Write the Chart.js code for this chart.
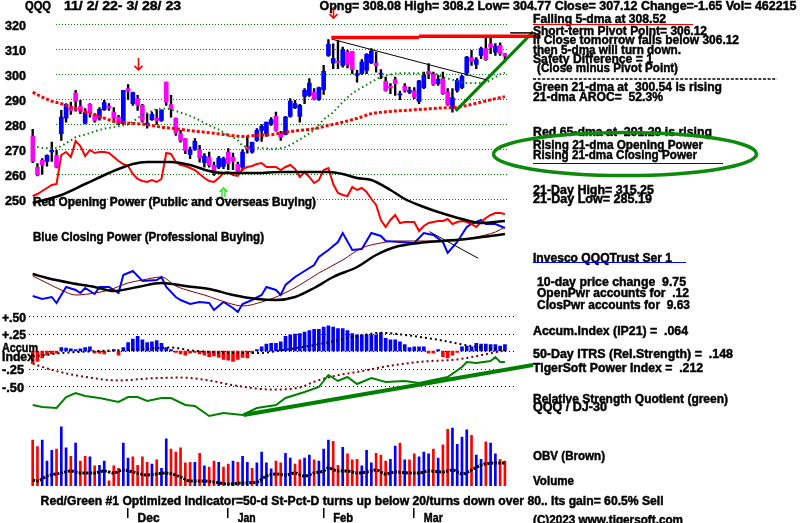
<!DOCTYPE html>
<html lang="en">
<head>
<meta charset="UTF-8">
<title>QQQ 11/2/22 - 3/28/23</title>
<script src="https://cdn.jsdelivr.net/npm/chart.js"></script>
<style>
  html, body { margin: 0; padding: 0; background: #fff; }
  #wrap { width: 800px; height: 523px; }
</style>
</head>
<body>
<div id="wrap"><canvas id="tiger" width="800" height="523"></canvas></div>
<script>
// ---- daily candles (QQQ) ----
const opens = [275.0,262.6,265.4,265.0,268.8,267.4,276.1,282.3,286.5,292.3,
  287.0,280.3,287.8,283.4,282.3,285.7,287.0,284.7,282.7,280.1,
  294.1,288.1,290.1,287.4,279.7,281.7,282.3,281.4,296.7,287.7,
  282.3,276.1,274.1,267.8,269.8,269.7,264.5,266.7,263.4,262.7,
  263.0,268.7,266.7,263.8,262.7,270.7,268.7,273.4,277.4,276.1,
  280.1,283.0,276.1,275.8,283.0,286.5,283.0,291.0,291.4,292.7,
  289.8,293.7,307.4,304.3,305.0,303.4,308.7,309.0,299.4,300.1,
  301.4,304.5,304.3,299.9,297.0,295.0,297.7,291.6,295.0,292.7,
  293.1,289.0,294.5,301.0,299.8,296.1,298.1,292.7,286.1,293.4,
  294.5,300.3,306.5,303.8,307.4,310.1,312.0,308.7,311.4,308.08];
const highs = [277.8,264.1,266.1,267.6,272.7,269.4,285.4,288.1,288.7,293.4,
  289.4,286.1,288.1,284.1,286.5,289.4,288.1,286.5,283.4,293.4,
  295.7,292.7,291.4,287.8,284.1,284.7,285.7,285.7,296.7,291.4,
  282.3,277.4,274.1,270.7,274.1,271.4,268.1,268.7,264.7,267.0,
  266.7,270.1,268.3,264.7,269.7,275.0,272.7,278.1,279.7,280.7,
  282.5,284.7,277.0,283.0,290.1,289.4,287.8,294.1,298.1,294.1,
  294.7,303.4,313.7,312.0,313.4,310.7,309.4,309.0,301.4,305.7,
  308.1,310.1,308.7,301.7,298.7,296.1,298.7,293.1,296.1,294.7,
  294.5,297.4,300.7,304.1,300.7,299.4,300.7,294.1,294.1,298.1,
  299.4,307.0,309.4,306.5,310.7,314.7,314.7,312.1,312.4,308.2];
const lows = [264.5,259.2,259.8,263.1,265.0,262.4,273.4,280.7,283.8,285.1,
  284.1,280.0,282.7,280.7,281.5,285.4,285.4,280.7,279.7,279.7,
  289.8,287.4,285.4,280.7,278.3,281.4,279.8,281.0,287.4,282.7,
  275.4,272.7,268.1,266.1,269.4,264.7,262.7,262.7,259.4,262.1,
  262.1,261.7,261.7,260.7,261.4,268.3,268.3,273.0,273.0,275.0,
  279.4,277.1,273.4,275.6,282.7,286.1,280.7,288.1,291.0,289.6,
  289.4,291.8,307.0,302.1,302.1,302.7,302.4,300.1,296.7,299.8,
  300.1,304.1,300.7,298.1,293.1,292.1,291.4,289.7,292.7,292.1,
  290.1,288.1,294.1,298.1,295.4,295.4,291.8,287.4,284.7,292.7,
  294.1,299.4,303.4,302.1,306.1,305.4,308.1,307.4,307.4,304.77];
const closes = [265.0,259.7,263.6,267.4,269.4,262.7,282.7,287.8,285.4,289.1,
  285.1,284.7,284.5,281.4,285.8,288.5,286.3,282.3,280.1,293.4,
  293.1,292.5,287.4,281.4,280.3,283.8,281.4,285.4,288.7,286.1,
  276.5,273.4,269.4,269.4,273.0,266.3,267.1,263.4,260.1,266.3,
  266.1,264.1,265.1,261.1,268.7,269.9,272.6,277.4,279.0,280.7,
  281.7,277.4,274.7,282.7,289.1,288.1,287.4,293.4,296.3,289.8,
  294.5,301.0,311.8,306.1,304.6,309.7,303.8,301.7,300.1,304.7,
  307.8,309.1,303.3,300.3,293.4,294.4,296.1,292.0,293.4,293.4,
  290.7,297.2,299.4,300.1,295.8,297.8,292.1,287.8,290.5,297.4,
  299.0,306.7,305.1,305.7,310.1,305.7,310.7,311.0,308.1,307.12];

// green 21-dma and red 65-dma (day index, value)
const ma21Days = [0,3,5,6,7,8,9,11,13,15,17,19,20,22,24,27,29,31,33,35,37,39,41,43,44,47,50,53,55,57,
  59,61,63,65,67,69,71,73,76,78,81,84,86,88,90,92,95,97,98,99];
const ma21Vals = [271,270.3,270.3,271.1,272.3,273.4,274.7,275.7,277,278.1,278.7,279.4,279.7,282.3,284.3,
  286.1,285.7,284.5,283.2,281.4,279.4,277.7,275.4,273.4,271.4,270.5,270.1,270.7,272.7,275,
  277.6,281.7,284.7,288.7,292.2,294.5,296.7,298.7,300.1,300.3,300.3,300.1,298.7,297.7,296.7,296.3,296.7,298.7,299.8,300.5];
const ma65Days = [0,2,4,6,8,10,13,15,17,20,22,25,27,29,31,34,36,40,44,47,50,53,56,59,62,65,68,71,75,78,82,85,89,92,94,97,99];
const ma65Vals = [292.7,290.7,289.1,288.1,286.7,285.4,283.7,282.3,281,280.3,280.1,279.4,278.7,278.3,277.8,277.1,276.7,
  275.8,275,275.4,275.7,276.7,277.4,278.1,279.4,280.7,282.2,284.1,285,285.4,285.9,286.3,286.7,287.8,288.7,290.1,290.9];

// price trend lines: [startDay, startValue, endDay, endValue]
const resistLow = [62.6, 314.6, 81, 314.6];
const resistHigh = [81, 315.1, 106.4, 315.1];
const downTrend = [62.7, 313.9, 95.2, 297.6];
const upTrend = [88.7, 285.2, 104.9, 316.8];
const topTick = [100.1, 316.4, 104.9, 316.4];

// opening power (red, daily) and closing power (blue), in chart units
const openPower = [54,56,59,62,65,66,95,98,93,109,
  104,94,100,97,98,98,97,93,89,86,
  84,76,71,69,68,70,68,71,97,96,
  88,85,84,82,80,76,72,69,68,72,
  77,78,75,74,81,83,84,86,87,83,
  83,83,80,83,85,81,73,78,73,67,
  70,80,82,66,57,55,54,63,60,62,
  58,51,45,30,23,30,35,27,28,28,
  28,19,24,27,28,29,29,31,26,28,
  29,28,26,23,28,32,35,37,37,36];
const opMaDays = [0,6,11,16,21,24,29,33,37,40,43,47,52,57,62,65,68,71,75,78,82,85,90,94,99];
const opMaVals = [47,55,66,77,86,88,88,85,79,77,77,77,78,78,78,76,72,70,60,51,43,38,31,27,29];
const cpDays = [0,2,4,5,7,9,10,11,13,14,16,18,19,21,23,26,27,28,30,31,33,35,37,38,40,42,43,44,46,48,
  49,51,52,53,55,57,59,60,62,64,65,67,69,71,73,74,80,82,84,86,87,89,91,92,94,95,97,99];
const cpVals = [-46,-49,-47,-53,-37,-40,-43,-38,-44,-37,-37,-43,-25,-21,-31,-30,-27,-37,-47,-50,
  -54,-52,-53,-60,-52,-58,-62,-54,-50,-45,-37,-40,-45,-35,-27,-21,-15,-7,0,8,
  17,0,1,17,14,9,7,17,15,8,-3,8,23,26,30,26,26,22];
const cpFastDays = [0,3,6,9,13,16,20,23,27,30,33,36,41,44,48,52,56,60,65,69,73,77,83,88,93,97,99];
const cpFastVals = [-26,-33,-40,-45,-43,-40,-33,-30,-27,-36,-41,-45,-53,-56,-52,-45,-35,-23,-10,2,7,9,9,9,13,18,23];
const cpSlowDays = [0,3,8,13,17,22,27,32,37,42,47,51,55,59,63,68,72,76,81,86,91,96,99];
const cpSlowVals = [-24,-28,-33,-37,-41,-37,-33,-36,-39,-45,-49,-50,-47,-38,-27,-17,-5,3,7,9,11,14,16];
const cpTrend = [83.2, 18.3, 93.4, -8.3];

// accumulation index (IP21), daily
const accum = [-0.18,-0.15,-0.10,-0.06,-0.04,-0.03,0.05,0.04,0.03,0.02,
  0.03,0.05,0.06,-0.03,-0.03,-0.04,-0.01,0.02,-0.06,0.05,
  0.12,0.17,0.21,0.16,0.12,0.13,0.15,0.11,0.05,0.02,
  -0.02,-0.04,-0.06,-0.03,-0.02,-0.04,-0.06,-0.08,-0.07,-0.09,
  -0.12,-0.13,-0.15,-0.12,-0.09,-0.10,-0.03,0.02,0.06,0.10,
  0.11,0.11,0.13,0.21,0.23,0.24,0.25,0.27,0.29,0.31,
  0.31,0.34,0.36,0.34,0.32,0.32,0.29,0.25,0.23,0.23,
  0.23,0.23,0.23,0.26,0.18,0.16,0.16,0.13,0.09,0.05,
  0.06,0.06,0.06,-0.03,-0.03,0.02,-0.08,-0.10,-0.06,-0.02,
  0.06,0.07,0.06,0.11,0.10,0.10,0.09,0.09,0.07,0.09];
const aiMaDays = [0,6,14,22,29,33,39,47,53,61,68,73,78,85,92,99];
const aiMaVals = [-0.08,-0.03,0,0.02,0.05,0.01,-0.02,-0.03,0.02,0.11,0.21,0.26,0.23,0.16,0.07,0.01];
const itrsDays = [0,4,11,18,25,31,36,43,50,56,59,63,68,75,82,89,94,99];
const itrsVals = [-0.18,-0.27,-0.37,-0.42,-0.39,-0.38,-0.41,-0.50,-0.55,-0.52,-0.44,-0.36,-0.30,-0.21,-0.15,-0.12,-0.06,0.01];

// relative strength quotient QQQ / DJ-30 (green)
const rsDays = [0,2,5,7,9,11,14,18,20,22,24,27,29,32,34,37,40,44,47,51,53,57,60,62,64,66,68,71,74,78,81,84,87,90,91,93,96,97,98,99];
const rsVals = [15,13,12,23,27,24,22,18,23,23,19,22,22,15,14,4,7,5,12,15,22,28,33,45,39,43,36,42,38,39,37,40,43,53,58,57,59,63,58,58];
const rsTrend = [44.2, 5, 104.9, 55];

// volume (u = up day, d = down day) and OBV
const volume = [76,65,76,41,59,61,98,63,49,71, 41,49,48,33,34,41,8,33,29,71,
  46,48,34,48,39,36,43,29,78,61, 56,63,38,39,39,54,33,31,41,39,
  31,36,41,39,49,39,29,38,56,38, 28,41,38,54,46,36,43,46,51,43,
  41,61,76,74,34,64,53,43,44,33, 59,38,54,51,41,44,66,71,43,43,
  53,48,56,53,61,46,68,94,96,69, 81,93,84,51,44,73,71,53,44,41];
const volDir = 'dduuuduudu' + 'dduduudddu' + 'udddduduud' + 'ddddududdu' + 'dduduuduuu' +
  'udduudduud' + 'uuuddudddu' + 'uuddduudud' + 'duuududduu' + 'uuduuduudd';
const obvDays = [0,1,3,6,8,10,13,15,17,19,21,24,26,28,31,33,36,38,41,44,47,49,51,53,55,57,59,61,62,64,
  66,68,70,72,74,76,79,81,83,86,88,90,92,94,97,99];
const obvVals = [10,9,14,17,19,17,17,19,17,20,18,15,16,17,13,9,9,8,6,7,8,14,16,15,17,14,17,19,22,19,
  19,17,18,20,16,18,17,17,19,18,20,16,20,25,27,27];

// ticks and markers
const priceTicks = [320, 310, 300, 290, 280, 270, 260, 250];
const aiTicks = [0.5, 0.25, 0, -0.25, -0.5];
const aiTickText = ['+.50', '+.25', '', '-.25', '-.50'];
const monthNames = ['Dec', 'Jan', 'Feb', 'Mar'];
const monthStarts = [20, 41, 61, 80];
const sellDays = [22, 63];
const buyDays = [40];

const days = closes.map((_, i) => i);
const pts = (ds, vs) => ds.map((d, k) => ({ x: d, y: vs[k] }));
const seg2 = s => [{ x: s[0], y: s[1] }, { x: s[2], y: s[3] }];

const BLUE = '#0000ff', RED = '#ff0000', MAG = '#ff00ff', GREEN = '#008000', BROWN = '#800000';

// bold text squeezed to the width it takes in the picture
function say(ctx, s, x, yc, w, size, color) {
  ctx.save();
  ctx.font = 'bold ' + (size || 12) + 'px "Liberation Sans", Arial, sans-serif';
  ctx.fillStyle = color || '#000';
  ctx.strokeStyle = color || '#000';
  ctx.lineWidth = 0.45;
  ctx.textBaseline = 'middle';
  const m = ctx.measureText(s).width;
  ctx.translate(x, yc);
  if (w) ctx.scale(w / m, 1);
  ctx.fillText(s, 0, 0);
  ctx.strokeText(s, 0, 0);
  ctx.restore();
}
function line(ctx, x1, y1, x2, y2) {
  ctx.beginPath(); ctx.moveTo(x1, y1); ctx.lineTo(x2, y2); ctx.stroke();
}

const notes = [
  ['Falling 5-dma at 308.52', 533, 19.5, 133],
  ['Short-term Pivot Point= 306.12', 533, 31.5, 174],
  ['If Close tomorrow falls below 306.12', 533, 41, 206],
  ['then 5-dma will turn down.', 533, 50.5, 148],
  ['Safety Difference = 1', 533, 59.5, 120],
  ['(Close minus Pivot Point)', 537, 68.5, 141],
  ['Green 21-dma at  300.54 is rising', 533, 88, 189],
  ['21-dma AROC=  52.3%', 533, 98, 130],
  ['Red 65-dma at  291.29 is rising', 533, 133, 179],
  ['Rising 21-dma Opening Power', 533, 145.5, 170],
  ['Rising 21-dma Closing Power', 533, 156, 164],
  ['21-Day High= 315.25', 533, 191, 121],
  ['21-Day Low= 285.19', 533, 199.5, 119],
  ['Invesco QQQTrust Ser 1', 533, 258.5, 139],
  ['10-day price change  9.75', 537, 282.5, 149],
  ['OpenPwr accounts for  .12', 537, 294, 152],
  ['ClosPwr accounts for  9.63', 537, 305.5, 153],
  ['Accum.Index (IP21) =  .064', 533, 331.5, 155],
  ['50-Day ITRS (Rel.Strength) =  .148', 533, 355, 200],
  ['TigerSoft Power Index =  .212', 533, 368.5, 170],
  ['Relative Strength Quotient (green)', 533, 399.5, 195],
  ['QQQ / DJ-30', 533, 408, 74],
  ['OBV (Brown)', 533, 456.5, 72],
  ['Volume', 533, 481.5, 41],
  ['(C)2023 www.tigersoft.com', 533, 521, 150]
];

const tigerOverlay = {
  id: 'tigerOverlay',
  beforeDatasetsDraw(chart) {
    const ctx = chart.ctx, p = chart.scales.price, a = chart.scales.ai;
    ctx.save();
    ctx.lineWidth = 1;
    ctx.strokeStyle = GREEN;
    ctx.setLineDash([1, 2]);
    priceTicks.forEach(v => {
      const y = Math.round(p.getPixelForValue(v)) + 0.5;
      line(ctx, 56, y, 507, y);
    });
    ctx.strokeStyle = '#000';
    ctx.setLineDash([1, 3]);
    aiTicks.forEach(v => {
      const y = Math.round(a.getPixelForValue(v)) + 0.5;
      line(ctx, 29, y, 517, y);
    });
    ctx.restore();
  },
  afterDatasetsDraw(chart) {
    const ctx = chart.ctx, p = chart.scales.price, a = chart.scales.ai, xs = chart.scales.x;
    ctx.save();
    say(ctx, 'QQQ', 25, 6.5, 26);
    say(ctx, '11/ 2/ 22- 3/ 28/ 23', 64, 6.5, 117);
    say(ctx, 'Opng= 308.08 High= 308.2 Low= 304.77 Close= 307.12 Change=-1.65 Vol= 462215', 319.5, 6.5, 477);

    priceTicks.forEach(v => say(ctx, String(v), 5, p.getPixelForValue(v) + 2.2, 21, 13));

    say(ctx, 'Red Opening Power (Public and Overseas Buying)', 33, 203, 283);
    say(ctx, 'Blue Closing Power (Professional Buying)', 33, 238, 231);

    aiTicks.forEach((v, k) => {
      if (aiTickText[k]) say(ctx, aiTickText[k], 2, a.getPixelForValue(v) + 2.3, aiTickText[k][0] === '+' ? 24 : 22);
    });
    say(ctx, 'Accum', 2, 348.5, 36);
    say(ctx, 'Index', 2, 357.5, 32);

    say(ctx, 'Red/Green #1 Optimized Indicator=50-d St-Pct-D turns up below 20/turns down over 80.. Its gain= 60.5% Sell', 40.6, 501.5, 623);

    ctx.fillStyle = '#000';
    monthStarts.forEach((d, k) => {
      const x = xs.getPixelForValue(d);
      ctx.fillRect(Math.round(x) - 1, 508, 1.5, 10);
      say(ctx, monthNames[k], x + 9.5, 519, [22, 18, 20, 19][k]);
    });

    notes.forEach(n => say(ctx, n[0], n[1], n[2], n[3]));

    ctx.lineWidth = 1;
    ctx.strokeStyle = RED; line(ctx, 533, 24.5, 693, 24.5);
    ctx.strokeStyle = BLUE; line(ctx, 533, 163.5, 723, 163.5);
    line(ctx, 533, 262.5, 686, 262.5);
    ctx.strokeStyle = '#000';
    ctx.lineWidth = 1.3;
    ctx.setLineDash([3, 1.6]);
    line(ctx, 533, 79, 777, 79);
    ctx.setLineDash([]);

    // signal arrows
    ctx.lineWidth = 1.6;
    ctx.strokeStyle = RED;
    const sellRanges = [[306.4, 301.6], [326.8, 322.3]];
    sellDays.forEach((d, k) => {
      const x = Math.round(xs.getPixelForValue(d)) + 0.5;
      const y1 = p.getPixelForValue(sellRanges[k][0]), y2 = p.getPixelForValue(sellRanges[k][1]);
      line(ctx, x, y1, x, y2);
      ctx.beginPath(); ctx.moveTo(x - 4, y2 - 4); ctx.lineTo(x, y2); ctx.lineTo(x + 4, y2 - 4); ctx.stroke();
    });
    ctx.strokeStyle = '#00e000';
    ctx.lineWidth = 1.2;
    buyDays.forEach(d => {
      const x = Math.round(xs.getPixelForValue(d)) + 0.5;
      const yt = p.getPixelForValue(254.4), yb = p.getPixelForValue(250.8);
      ctx.beginPath(); ctx.moveTo(x - 4, yt + 4); ctx.lineTo(x, yt); ctx.lineTo(x + 4, yt + 4); ctx.stroke();
      line(ctx, x - 1.5, yt + 2, x - 1.5, yb);
      line(ctx, x + 1.5, yt + 2, x + 1.5, yb);
    });

    // green ellipse round the power notes
    ctx.strokeStyle = '#0b8a0b';
    ctx.lineWidth = 3.5;
    ctx.beginPath();
    ctx.ellipse(625, 154, 131.5, 21.5, 0, 0, Math.PI * 2);
    ctx.stroke();
    ctx.restore();
  }
};

const lineBase = { type: 'line', xAxisID: 'xl', pointRadius: 0, fill: false };

new Chart(document.getElementById('tiger'), {
  type: 'bar',
  data: {
    labels: days,
    datasets: [
      { ...lineBase, data: pts(ma21Days, ma21Vals), yAxisID: 'price', borderColor: GREEN, borderWidth: 2, borderDash: [1.5, 3], cubicInterpolationMode: 'monotone', order: 2 },
      { ...lineBase, data: pts(ma65Days, ma65Vals), yAxisID: 'price', borderColor: RED, borderWidth: 3, borderDash: [3, 2], cubicInterpolationMode: 'monotone', order: 2 },
      { ...lineBase, data: seg2(resistLow), yAxisID: 'price', borderColor: RED, borderWidth: 3.5, clip: false, order: 1 },
      { ...lineBase, data: seg2(resistHigh), yAxisID: 'price', borderColor: RED, borderWidth: 3.5, clip: false, order: 1 },
      { ...lineBase, data: seg2(topTick), yAxisID: 'price', borderColor: '#000', borderWidth: 1.5, clip: false, order: 1 },
      { ...lineBase, data: seg2(downTrend), yAxisID: 'price', borderColor: '#000', borderWidth: 1, order: 1 },
      { ...lineBase, data: seg2(upTrend), yAxisID: 'price', borderColor: GREEN, borderWidth: 3, clip: false, order: 1 },
      { type: 'bar', data: opens.map((o, i) => [o, closes[i]]), yAxisID: 'price', grouped: false, barThickness: 4, minBarLength: 1,
        backgroundColor: c => closes[c.dataIndex] >= opens[c.dataIndex] ? BLUE : MAG, order: 6 },
      { type: 'bar', data: lows.map((l, i) => [l, highs[i]]), yAxisID: 'price', grouped: false, barThickness: 1.7,
        backgroundColor: '#000', order: 7 },

      { type: 'line', data: openPower, yAxisID: 'pw', borderColor: RED, borderWidth: 2, pointRadius: 0, order: 3 },
      { ...lineBase, data: pts(opMaDays, opMaVals), yAxisID: 'pw', borderColor: '#000', borderWidth: 2.5, cubicInterpolationMode: 'monotone', order: 2 },
      { ...lineBase, data: pts(cpDays, cpVals), yAxisID: 'pw', borderColor: BLUE, borderWidth: 2, order: 3 },
      { ...lineBase, data: pts(cpFastDays, cpFastVals), yAxisID: 'pw', borderColor: BROWN, borderWidth: 1, cubicInterpolationMode: 'monotone', order: 2 },
      { ...lineBase, data: pts(cpSlowDays, cpSlowVals), yAxisID: 'pw', borderColor: '#000', borderWidth: 2.5, cubicInterpolationMode: 'monotone', order: 1 },
      { ...lineBase, data: seg2(cpTrend), yAxisID: 'pw', borderColor: '#000', borderWidth: 1, order: 1 },

      { type: 'bar', data: accum, yAxisID: 'ai', grouped: false, barThickness: 3,
        backgroundColor: c => accum[c.dataIndex] >= 0 ? BLUE : RED, order: 9 },
      { ...lineBase, data: pts(aiMaDays, aiMaVals), yAxisID: 'ai', borderColor: '#000', borderWidth: 2, borderDash: [2, 3], cubicInterpolationMode: 'monotone', order: 4 },
      { ...lineBase, data: pts(itrsDays, itrsVals), yAxisID: 'ai', borderColor: BROWN, borderWidth: 2, borderDash: [2, 3], cubicInterpolationMode: 'monotone', order: 4 },
      { ...lineBase, data: pts(rsDays, rsVals), yAxisID: 'rs', borderColor: GREEN, borderWidth: 2, order: 3 },
      { ...lineBase, data: seg2(rsTrend), yAxisID: 'rs', borderColor: GREEN, borderWidth: 4, clip: false, order: 2 },

      { type: 'bar', data: volume, yAxisID: 'vol', grouped: false, barThickness: 2,
        backgroundColor: c => volDir[c.dataIndex] === 'u' ? BLUE : RED, order: 9 },
      { ...lineBase, data: pts(obvDays, obvVals), yAxisID: 'obv', borderColor: '#000', borderWidth: 3, borderDash: [2.5, 1.2], cubicInterpolationMode: 'monotone', order: 4 }
    ]
  },
  options: {
    responsive: false,
    animation: false,
    events: [],
    layout: { padding: { left: 30.3, right: 292.7, top: 0, bottom: 0 } },
    plugins: { legend: { display: false }, tooltip: { enabled: false } },
    scales: {
      x: { type: 'category', display: false, offset: true },
      xl: { type: 'linear', axis: 'x', position: 'bottom', display: false, offset: false, grid: { offset: false }, min: -0.5, max: 99.5 },
      price: { type: 'linear', axis: 'y', position: 'left', display: false, min: 120.36, max: 329.56 },
      pw: { type: 'linear', axis: 'y', position: 'left', display: false, min: -273, max: 250 },
      ai: { type: 'linear', axis: 'y', position: 'left', display: false, min: -2.4571, max: 5.0143 },
      rs: { type: 'linear', axis: 'y', position: 'left', display: false, min: -103, max: 420 },
      vol: { type: 'linear', axis: 'y', position: 'left', display: false, min: -62.17, max: 809.5 },
      obv: { type: 'linear', axis: 'y', position: 'left', display: false, min: -33, max: 490 }
    }
  },
  plugins: [tigerOverlay]
});
</script>
</body>
</html>
